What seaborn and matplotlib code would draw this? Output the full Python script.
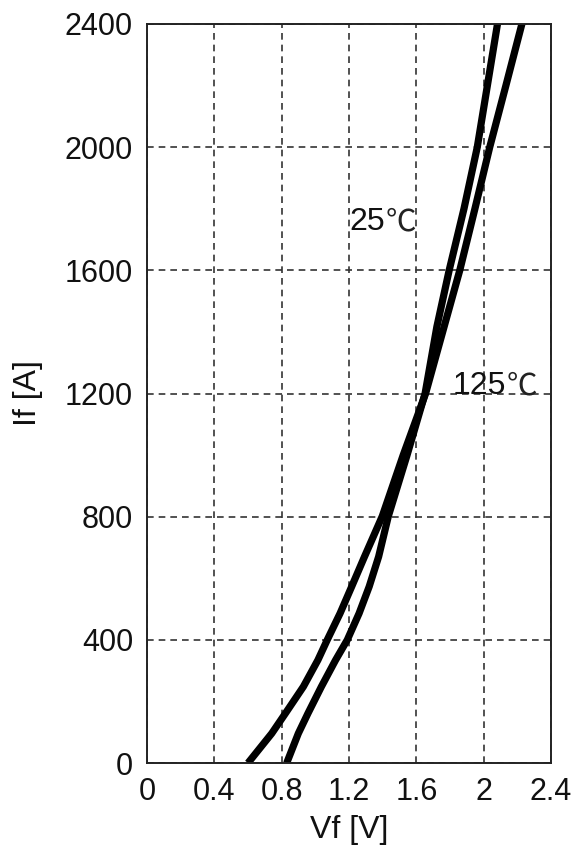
import matplotlib
matplotlib.use("Agg")
import matplotlib.pyplot as plt
import seaborn as sns
import pandas as pd

# Forward characteristic of the diode at two junction temperatures
vf_25 = [0.83, 0.899, 0.956, 1.036, 1.12, 1.19, 1.26, 1.32, 1.376, 1.434, 1.545, 1.652, 1.722, 1.795, 1.883, 1.962, 2.022, 2.082]
if_25 = [0, 96, 161, 248, 334, 400, 486, 573, 670, 802, 1000, 1200, 1417, 1600, 1800, 2000, 2200, 2400]

vf_125 = [0.60, 0.741, 0.822, 0.929, 1.015, 1.071, 1.147, 1.216, 1.292, 1.398, 1.522, 1.655, 1.765, 1.858, 1.948, 2.036, 2.132, 2.227]
if_125 = [0, 96, 161, 248, 334, 400, 486, 573, 670, 802, 1000, 1200, 1417, 1600, 1800, 2000, 2200, 2400]

x_ticks = [0, 0.4, 0.8, 1.2, 1.6, 2.0, 2.4]
x_tick_labels = ["0", "0.4", "0.8", "1.2", "1.6", "2", "2.4"]
y_ticks = [0, 400, 800, 1200, 1600, 2000, 2400]

df = pd.concat([
    pd.DataFrame({"Vf": vf_25, "If": if_25, "Tj": "25"}),
    pd.DataFrame({"Vf": vf_125, "If": if_125, "Tj": "125"}),
], ignore_index=True)

sns.set_theme(style="white")
plt.rcParams["font.family"] = ["Liberation Sans", "DejaVu Sans"]

fig = plt.figure(figsize=(5.78, 8.51), dpi=100)
ax = fig.add_axes([0.2543, 0.1034, 0.9533 - 0.2543, 0.9718 - 0.1034])

sns.lineplot(data=df, x="Vf", y="If", hue="Tj", units="Tj", estimator=None,
             sort=False, palette=["black", "black"], linewidth=5.2,
             legend=False, ax=ax)
for ln in ax.get_lines():
    ln.set_solid_joinstyle("round")
    ln.set_solid_capstyle("butt")

ax.set_xlim(0, 2.4)
ax.set_ylim(0, 2400)
ax.set_xticks(x_ticks)
ax.set_xticklabels(x_tick_labels)
ax.set_yticks(y_ticks)

ax.grid(True, color="#333333", linestyle=(0, (4, 3)), linewidth=1.2)
for s in ax.spines.values():
    s.set_color("#222222")
    s.set_linewidth(1.4)

ax.tick_params(axis="both", direction="in", length=4, width=1, color="#222222",
               labelsize=22, labelcolor="#111111", pad=10)

ax.set_xlabel("Vf [V]", fontsize=23, color="#111111", labelpad=6)
ax.set_ylabel("If [A]", fontsize=23, color="#111111", labelpad=16)

# Temperature labels: digits in a Latin face, the degree sign from a CJK face
for x0, y0, num in [(1.205, 1757, "25"), (1.818, 1224, "125")]:
    t = ax.text(x0, y0, num, fontsize=23, color="#111111", va="center", ha="left")
    ax.annotate("℃", xy=(1, 0.5), xycoords=t, va="center", ha="left",
                fontsize=22, color="#222222", family=["Noto Sans CJK SC", "DejaVu Sans"])

fig.savefig("out.png", dpi=100, facecolor="white")
